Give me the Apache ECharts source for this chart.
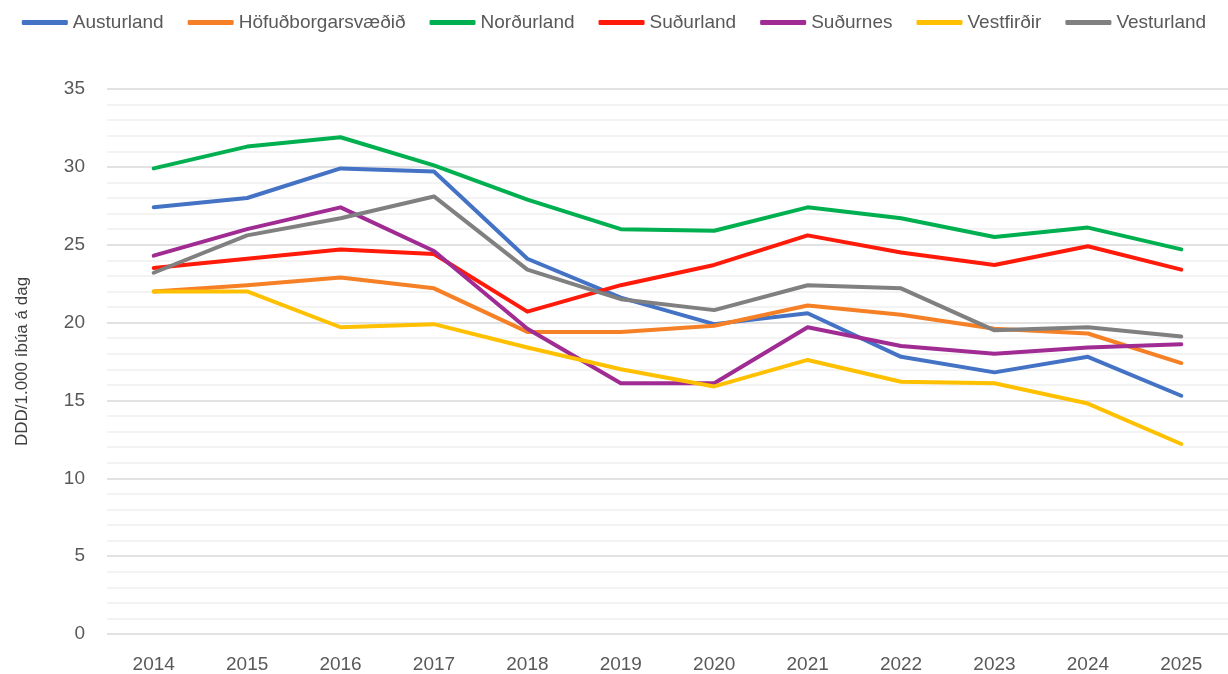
<!DOCTYPE html>
<html>
<head>
<meta charset="utf-8">
<script src="https://cdn.jsdelivr.net/npm/echarts@6/dist/echarts.min.js"></script>
<style>
  html, body { margin: 0; padding: 0; background: #fff; }
  #main { width: 1228px; height: 674px; }
</style>
</head>
<body>
<div id="main"></div>
<script>
'use strict';
// gögn lesin af myndinni
var years = ['2014', '2015', '2016', '2017', '2018', '2019', '2020', '2021', '2022', '2023', '2024', '2025'];
var austurland = [27.4, 28.0, 29.9, 29.7, 24.1, 21.6, 19.9, 20.6, 17.8, 16.8, 17.8, 15.3];
var hofudborgarsvaedid = [22.0, 22.4, 22.9, 22.2, 19.4, 19.4, 19.8, 21.1, 20.5, 19.6, 19.3, 17.4];
var nordurland = [29.9, 31.3, 31.9, 30.1, 27.9, 26.0, 25.9, 27.4, 26.7, 25.5, 26.1, 24.7];
var sudurland = [23.5, 24.1, 24.7, 24.4, 20.7, 22.4, 23.7, 25.6, 24.5, 23.7, 24.9, 23.4];
var sudurnes = [24.3, 26.0, 27.4, 24.6, 19.6, 16.1, 16.1, 19.7, 18.5, 18.0, 18.4, 18.6];
var vestfirdir = [22.0, 22.0, 19.7, 19.9, 18.4, 17.0, 15.9, 17.6, 16.2, 16.1, 14.8, 12.2];
var vesturland = [23.2, 25.6, 26.7, 28.1, 23.4, 21.5, 20.8, 22.4, 22.2, 19.5, 19.7, 19.1];

var seriesNames = ['Austurland', 'Höfuðborgarsvæðið', 'Norðurland', 'Suðurland', 'Suðurnes', 'Vestfirðir', 'Vesturland'];
var seriesData = [austurland, hofudborgarsvaedid, nordurland, sudurland, sudurnes, vestfirdir, vesturland];
var colors = ['#4472C4', '#F58025', '#00B050', '#FF1A0A', '#A02B93', '#FFC000', '#808080'];

var font = 'Liberation Sans, Arial, sans-serif';

var myChart = echarts.init(document.getElementById('main'));

var option = {
    animation: false,
    color: colors,
    legend: {
        top: 8,
        left: 'center',
        itemWidth: 46,
        itemHeight: 5,
        itemGap: 24,
        icon: 'roundRect',
        textStyle: { color: '#595959', fontSize: 19, fontFamily: font },
        data: seriesNames
    },
    grid: {
        left: 107,
        right: 0,
        top: 89,
        bottom: 40,
        containLabel: false
    },
    xAxis: {
        type: 'category',
        data: years,
        boundaryGap: true,
        axisLine: { show: false },
        axisTick: { show: false },
        axisLabel: { color: '#595959', fontSize: 19, fontFamily: font, margin: 21 }
    },
    yAxis: {
        type: 'value',
        min: 0,
        max: 35,
        interval: 5,
        name: 'DDD/1.000 íbúa á dag',
        nameLocation: 'middle',
        nameGap: 76,
        nameRotate: 90,
        nameTextStyle: { color: '#404040', fontSize: 17, fontFamily: font },
        axisLine: { show: false },
        axisTick: { show: false },
        axisLabel: { color: '#595959', fontSize: 19, fontFamily: font, margin: 22 },
        splitLine: { lineStyle: { color: '#D9D9D9', width: 1.5 } },
        minorTick: { show: false, splitNumber: 5 },
        minorSplitLine: { show: true, lineStyle: { color: '#F0F0F0', width: 1.5 } }
    },
    series: seriesNames.map(function (name, i) {
        return {
            name: name,
            type: 'line',
            data: seriesData[i],
            symbol: 'none',
            smooth: false,
            lineStyle: { width: 4, cap: 'round', join: 'round' }
        };
    })
};

myChart.setOption(option);
</script>
</body>
</html>
